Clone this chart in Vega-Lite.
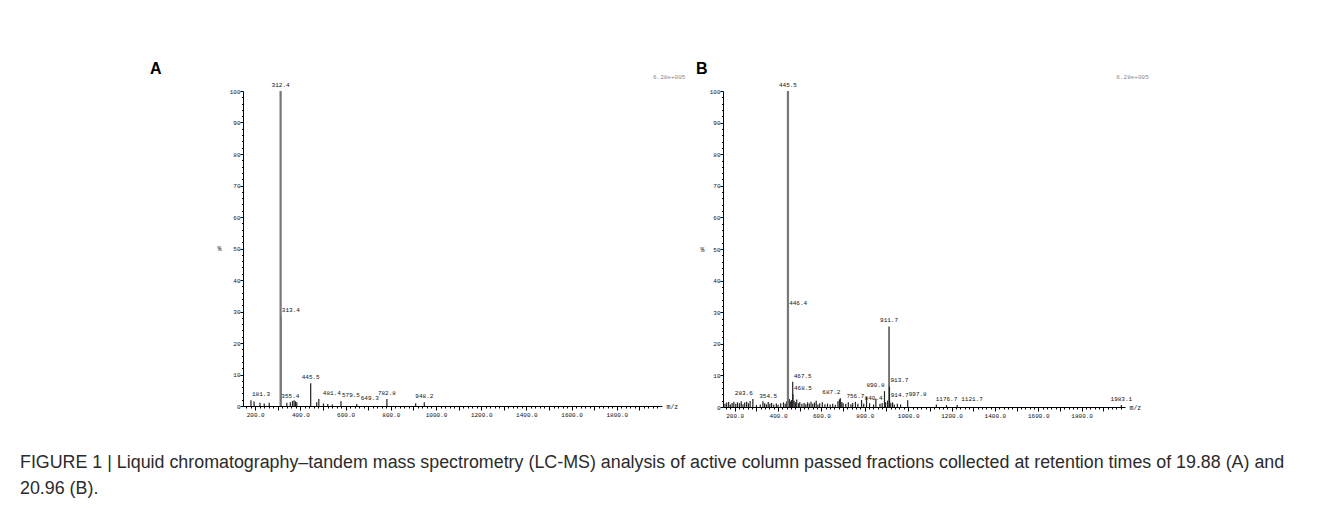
{
  "$schema": "https://vega.github.io/schema/vega-lite/v6.json",
  "background": "white",
  "autosize": {"type": "pad"},
  "padding": {"left": 20, "top": 60, "right": 10, "bottom": 10},
  "bounds": "flush",
  "spacing": 61,
  "title": {
    "text": ["FIGURE 1 | Liquid chromatography–tandem mass spectrometry (LC-MS) analysis of active column passed fractions collected at retention times of 19.88 (A) and", "20.96 (B)."],
    "orient": "bottom",
    "anchor": "start",
    "frame": "group",
    "dx": -223,
    "offset": 36,
    "baseline": "top",
    "font": "Liberation Sans",
    "fontSize": 17.85,
    "fontWeight": "normal",
    "lineHeight": 26,
    "color": "#2b2b2b"
  },
  "config": {
    "view": {"stroke": null},
    "axis": {
      "grid": false,
      "domainColor": "#000",
      "domainWidth": 1,
      "tickColor": "#000",
      "tickWidth": 1,
      "labelFont": "Liberation Mono",
      "labelFontSize": 6,
      "labelColor": "#111",
      "labelOverlap": false,
      "titleFont": "Liberation Mono",
      "titleFontSize": 6.5,
      "titleFontWeight": "normal",
      "titleColor": "#111"
    },
    "text": {"font": "Liberation Mono", "fontSize": 6, "color": "#111"}
  },
  "datasets": {
    "A": [
      {"mz": 181.3, "intensity": 1.8, "label": "181.3"},
      {"mz": 195, "intensity": 1.4},
      {"mz": 221, "intensity": 1.0},
      {"mz": 240, "intensity": 0.8},
      {"mz": 262, "intensity": 1.0},
      {"mz": 312.4, "intensity": 100, "label": "312.4"},
      {"mz": 313.4, "intensity": 28.5, "label": "313.4"},
      {"mz": 340, "intensity": 1.0},
      {"mz": 355.4, "intensity": 1.2, "label": "355.4"},
      {"mz": 365, "intensity": 1.6},
      {"mz": 372, "intensity": 1.8},
      {"mz": 378, "intensity": 1.5},
      {"mz": 384, "intensity": 1.2},
      {"mz": 445.5, "intensity": 7.2, "label": "445.5"},
      {"mz": 472, "intensity": 1.2},
      {"mz": 481.4, "intensity": 2.2, "label": "481.4"},
      {"mz": 502, "intensity": 0.8},
      {"mz": 521, "intensity": 0.6},
      {"mz": 541, "intensity": 0.5},
      {"mz": 579.5, "intensity": 1.5, "label": "579.5"},
      {"mz": 649.3, "intensity": 0.6, "label": "649.3"},
      {"mz": 782.8, "intensity": 2.2, "label": "782.8"},
      {"mz": 910, "intensity": 0.9},
      {"mz": 948.2, "intensity": 1.2, "label": "948.2"}
    ],
    "B": [
      {"mz": 155, "intensity": 1.0},
      {"mz": 163, "intensity": 1.4},
      {"mz": 172, "intensity": 1.6},
      {"mz": 180, "intensity": 0.8},
      {"mz": 188, "intensity": 1.3},
      {"mz": 196, "intensity": 1.7},
      {"mz": 205, "intensity": 1.0},
      {"mz": 213, "intensity": 1.5},
      {"mz": 222, "intensity": 1.2},
      {"mz": 230, "intensity": 1.8},
      {"mz": 238, "intensity": 0.9},
      {"mz": 246, "intensity": 1.4},
      {"mz": 255, "intensity": 1.7},
      {"mz": 263, "intensity": 1.2},
      {"mz": 271, "intensity": 1.9},
      {"mz": 283.6, "intensity": 2.5, "label": "283.6"},
      {"mz": 300, "intensity": 0.6},
      {"mz": 318, "intensity": 0.8},
      {"mz": 330, "intensity": 1.8},
      {"mz": 338, "intensity": 1.2},
      {"mz": 346, "intensity": 0.9},
      {"mz": 354.5, "intensity": 1.6, "label": "354.5"},
      {"mz": 362, "intensity": 1.0},
      {"mz": 370, "intensity": 1.3},
      {"mz": 380, "intensity": 0.8},
      {"mz": 392, "intensity": 1.1},
      {"mz": 400, "intensity": 0.7},
      {"mz": 412, "intensity": 1.2},
      {"mz": 425, "intensity": 1.5},
      {"mz": 433, "intensity": 1.0},
      {"mz": 440, "intensity": 1.8},
      {"mz": 445.5, "intensity": 100, "label": "445.5"},
      {"mz": 446.4, "intensity": 31, "label": "446.4"},
      {"mz": 452, "intensity": 2.5},
      {"mz": 458, "intensity": 1.8},
      {"mz": 462, "intensity": 2.2},
      {"mz": 467.5, "intensity": 8, "label": "467.5"},
      {"mz": 468.5, "intensity": 4, "label": "468.5"},
      {"mz": 474, "intensity": 2.0},
      {"mz": 480, "intensity": 1.5},
      {"mz": 486, "intensity": 2.4},
      {"mz": 494, "intensity": 1.2},
      {"mz": 500, "intensity": 1.6},
      {"mz": 510, "intensity": 1.0},
      {"mz": 520, "intensity": 1.3},
      {"mz": 528, "intensity": 0.9},
      {"mz": 536, "intensity": 1.5},
      {"mz": 544, "intensity": 1.1},
      {"mz": 552, "intensity": 1.7},
      {"mz": 560, "intensity": 1.0},
      {"mz": 568, "intensity": 1.4},
      {"mz": 576, "intensity": 2.0},
      {"mz": 584, "intensity": 0.8},
      {"mz": 592, "intensity": 1.2},
      {"mz": 604, "intensity": 1.5},
      {"mz": 616, "intensity": 0.9},
      {"mz": 628, "intensity": 1.1},
      {"mz": 640, "intensity": 0.8},
      {"mz": 652, "intensity": 1.0},
      {"mz": 664, "intensity": 0.7},
      {"mz": 676, "intensity": 1.8},
      {"mz": 683, "intensity": 2.4},
      {"mz": 687.2, "intensity": 2.8, "label": "687.2"},
      {"mz": 694, "intensity": 1.6},
      {"mz": 700, "intensity": 1.2},
      {"mz": 712, "intensity": 1.0},
      {"mz": 724, "intensity": 1.5},
      {"mz": 736, "intensity": 0.9},
      {"mz": 744, "intensity": 1.3},
      {"mz": 756.7, "intensity": 1.6, "label": "756.7"},
      {"mz": 768, "intensity": 1.0},
      {"mz": 785, "intensity": 2.2},
      {"mz": 795, "intensity": 1.0},
      {"mz": 808, "intensity": 3.2},
      {"mz": 822, "intensity": 1.2},
      {"mz": 840.4, "intensity": 0.8, "label": "840.4"},
      {"mz": 851, "intensity": 2.6},
      {"mz": 870, "intensity": 1.0},
      {"mz": 880, "intensity": 1.3},
      {"mz": 890.8, "intensity": 5, "label": "890.8"},
      {"mz": 896, "intensity": 1.5},
      {"mz": 905, "intensity": 2.0},
      {"mz": 911.7, "intensity": 25.5, "label": "911.7"},
      {"mz": 913.7, "intensity": 6.5, "label": "913.7"},
      {"mz": 914.7, "intensity": 1.8, "label": "914.7"},
      {"mz": 920, "intensity": 1.2},
      {"mz": 928, "intensity": 1.5},
      {"mz": 936, "intensity": 0.8},
      {"mz": 950, "intensity": 1.0},
      {"mz": 965, "intensity": 0.8},
      {"mz": 997.8, "intensity": 2.1, "label": "997.8"},
      {"mz": 1130, "intensity": 0.8},
      {"mz": 1176.7, "intensity": 0.6, "label": "1176.7"},
      {"mz": 1226, "intensity": 0.6, "label": "1121.7"},
      {"mz": 1983.1, "intensity": 0.6, "label": "1983.1"}
    ]
  },
  "hconcat": [
    {
      "width": 419,
      "height": 315,
      "title": {"text": "A", "anchor": "start", "frame": "group", "dx": -93, "offset": -3, "font": "Liberation Sans", "fontSize": 16, "fontWeight": "bold", "color": "#000"},
      "data": {"name": "A"},
      "resolve": {"axis": {"x": "independent", "y": "independent"}},
      "layer": [
        {
          "mark": {"type": "rule"},
          "encoding": {
            "x": {
              "field": "mz", "type": "quantitative",
              "scale": {"domain": [146, 2000], "nice": false, "zero": false},
              "axis": {
                "orient": "bottom",
                "values": [200,300,400,500,600,700,800,900,1000,1100,1200,1300,1400,1500,1600,1700,1800,1900],
                "labelExpr": "datum.value % 200 === 0 ? format(datum.value, '.1f') : ''",
                "tickSize": 4,
                "labelPadding": 1,
                "title": "m/z",
                "titleX": 423, "titleY": 0, "titleAlign": "left", "titleBaseline": "middle"
              }
            },
            "y": {
              "field": "intensity", "type": "quantitative",
              "scale": {"domain": [0, 100], "nice": false},
              "axis": {
                "orient": "left",
                "values": [0,10,20,30,40,50,60,70,80,90,100],
                "tickSize": 3,
                "labelPadding": 0,
                "title": "%",
                "titleAngle": 0, "titleX": -24, "titleY": 157, "titleAlign": "center", "titleBaseline": "middle"
              }
            },
            "y2": {"datum": 0},
            "order": {"field": "intensity", "type": "quantitative"},
            "color": {"condition": {"test": "datum.intensity >= 100", "value": "#777"}, "value": "#222"},
            "strokeWidth": {"condition": {"test": "datum.intensity >= 100", "value": 2.2}, "value": 1.2}
          }
        },
        {
          "transform": [{"filter": "indexof(['181.3','313.4','579.5'], datum.label) >= 0"}],
          "mark": {"type": "text", "align": "left", "baseline": "bottom", "dy": -3, "dx": 1},
          "encoding": {
            "x": {
              "field": "mz", "type": "quantitative",
              "axis": {
                "orient": "bottom",
                "values": [160,180,220,240,260,280,320,340,360,380,420,440,460,480,520,540,560,580,620,640,660,680,720,740,760,780,820,840,860,880,920,940,960,980,1020,1040,1060,1080,1120,1140,1160,1180,1220,1240,1260,1280,1320,1340,1360,1380,1420,1440,1460,1480,1520,1540,1560,1580,1620,1640,1660,1680,1720,1740,1760,1780,1820,1840,1860,1880,1920,1940,1960,1980],
                "labels": false, "domain": false, "tickSize": 2, "title": null
              }
            },
            "y": {
              "field": "intensity", "type": "quantitative",
              "axis": {
                "orient": "left",
                "values": [2,4,6,8,12,14,16,18,22,24,26,28,32,34,36,38,42,44,46,48,52,54,56,58,62,64,66,68,72,74,76,78,82,84,86,88,92,94,96,98],
                "labels": false, "domain": false, "tickSize": 1.5, "title": null
              }
            },
            "text": {"field": "label"}
          }
        },
        {
          "transform": [{"filter": "indexof(['481.4','649.3'], datum.label) >= 0"}],
          "mark": {"type": "text", "align": "left", "baseline": "bottom", "dy": -3, "dx": 4},
          "encoding": {
            "x": {"field": "mz", "type": "quantitative", "axis": null},
            "y": {"field": "intensity", "type": "quantitative", "axis": null},
            "text": {"field": "label"}
          }
        },
        {
          "transform": [{"filter": "indexof(['312.4','355.4','445.5','782.8','948.2'], datum.label) >= 0"}],
          "mark": {"type": "text", "align": "center", "baseline": "bottom", "dy": -3},
          "encoding": {
            "x": {"field": "mz", "type": "quantitative", "axis": null},
            "y": {"field": "intensity", "type": "quantitative", "axis": null},
            "text": {"field": "label"}
          }
        },
        {
          "data": {"values": [{}]},
          "mark": {"type": "text", "align": "left", "baseline": "middle", "color": "#888"},
          "encoding": {
            "x": {"datum": 1960, "axis": null},
            "y": {"datum": 104.5, "axis": null},
            "text": {"value": "6.28e+005"}
          }
        }
      ]
    },
    {
      "width": 402,
      "height": 316,
      "title": {"text": "B", "anchor": "start", "frame": "group", "dx": -27, "offset": -3, "font": "Liberation Sans", "fontSize": 16, "fontWeight": "bold", "color": "#000"},
      "data": {"name": "B"},
      "resolve": {"axis": {"x": "independent", "y": "independent"}},
      "layer": [
        {
          "mark": {"type": "rule"},
          "encoding": {
            "x": {
              "field": "mz", "type": "quantitative",
              "scale": {"domain": [146, 2000], "nice": false, "zero": false},
              "axis": {
                "orient": "bottom",
                "values": [200,300,400,500,600,700,800,900,1000,1100,1200,1300,1400,1500,1600,1700,1800,1900],
                "labelExpr": "datum.value % 200 === 0 ? format(datum.value, '.1f') : ''",
                "tickSize": 4,
                "labelPadding": 1,
                "title": "m/z",
                "titleX": 406, "titleY": 0, "titleAlign": "left", "titleBaseline": "middle"
              }
            },
            "y": {
              "field": "intensity", "type": "quantitative",
              "scale": {"domain": [0, 100], "nice": false},
              "axis": {
                "orient": "left",
                "values": [0,10,20,30,40,50,60,70,80,90,100],
                "tickSize": 3,
                "labelPadding": 0,
                "title": "%",
                "titleAngle": 0, "titleX": -21, "titleY": 158, "titleAlign": "center", "titleBaseline": "middle"
              }
            },
            "y2": {"datum": 0},
            "order": {"field": "intensity", "type": "quantitative"},
            "color": {"condition": {"test": "datum.intensity >= 100", "value": "#777"}, "value": "#222"},
            "strokeWidth": {"condition": {"test": "datum.intensity >= 100", "value": 2.2}, "value": 1.2}
          }
        },
        {
          "transform": [{"filter": "indexof(['446.4','467.5','468.5','913.7','914.7','997.8'], datum.label) >= 0"}],
          "mark": {"type": "text", "align": "left", "baseline": "bottom", "dy": -3, "dx": 1},
          "encoding": {
            "x": {
              "field": "mz", "type": "quantitative",
              "axis": {
                "orient": "bottom",
                "values": [160,180,220,240,260,280,320,340,360,380,420,440,460,480,520,540,560,580,620,640,660,680,720,740,760,780,820,840,860,880,920,940,960,980,1020,1040,1060,1080,1120,1140,1160,1180,1220,1240,1260,1280,1320,1340,1360,1380,1420,1440,1460,1480,1520,1540,1560,1580,1620,1640,1660,1680,1720,1740,1760,1780,1820,1840,1860,1880,1920,1940,1960,1980],
                "labels": false, "domain": false, "tickSize": 2, "title": null
              }
            },
            "y": {
              "field": "intensity", "type": "quantitative",
              "axis": {
                "orient": "left",
                "values": [2,4,6,8,12,14,16,18,22,24,26,28,32,34,36,38,42,44,46,48,52,54,56,58,62,64,66,68,72,74,76,78,82,84,86,88,92,94,96,98],
                "labels": false, "domain": false, "tickSize": 1.5, "title": null
              }
            },
            "text": {"field": "label"}
          }
        },
        {
          "transform": [{"filter": "indexof(['1121.7'], datum.label) >= 0"}],
          "mark": {"type": "text", "align": "left", "baseline": "bottom", "dy": -3, "dx": 4},
          "encoding": {
            "x": {"field": "mz", "type": "quantitative", "axis": null},
            "y": {"field": "intensity", "type": "quantitative", "axis": null},
            "text": {"field": "label"}
          }
        },
        {
          "transform": [{"filter": "indexof(['445.5','911.7','354.5','756.7','840.4','1176.7','1983.1'], datum.label) >= 0"}],
          "mark": {"type": "text", "align": "center", "baseline": "bottom", "dy": -3},
          "encoding": {
            "x": {"field": "mz", "type": "quantitative", "axis": null},
            "y": {"field": "intensity", "type": "quantitative", "axis": null},
            "text": {"field": "label"}
          }
        },
        {
          "transform": [{"filter": "indexof(['283.6','687.2','890.8'], datum.label) >= 0"}],
          "mark": {"type": "text", "align": "right", "baseline": "bottom", "dy": -3},
          "encoding": {
            "x": {"field": "mz", "type": "quantitative", "axis": null},
            "y": {"field": "intensity", "type": "quantitative", "axis": null},
            "text": {"field": "label"}
          }
        },
        {
          "data": {"values": [{}]},
          "mark": {"type": "text", "align": "left", "baseline": "middle", "color": "#888"},
          "encoding": {
            "x": {"datum": 1960, "axis": null},
            "y": {"datum": 104.5, "axis": null},
            "text": {"value": "6.28e+005"}
          }
        }
      ]
    }
  ]
}
